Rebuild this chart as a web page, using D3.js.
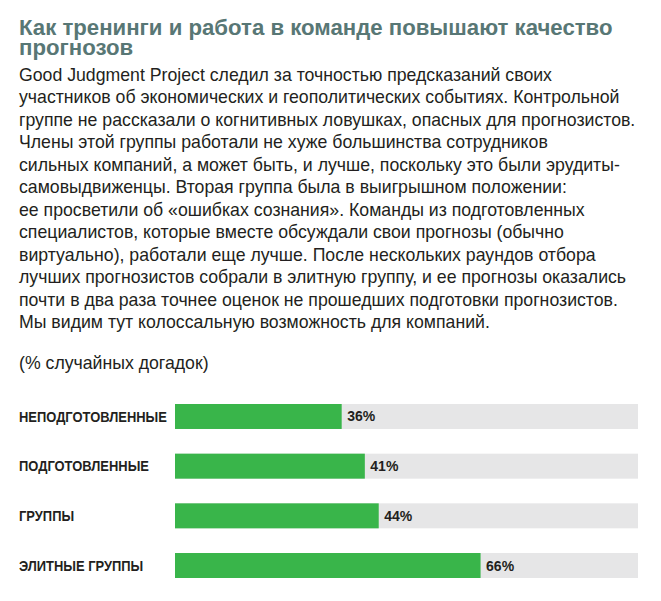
<!DOCTYPE html>
<html>
<head>
<meta charset="utf-8">
<script src="https://cdn.jsdelivr.net/npm/d3@7"></script>
<style>
  html, body { margin: 0; padding: 0; background: #fff; }
  svg { display: block; }
</style>
</head>
<body>
<script>
const titleLines = [
  "Как тренинги и работа в команде повышают качество",
  "прогнозов"
];
const bodyLines = [
  "Good Judgment Project следил за точностью предсказаний своих",
  "участников об экономических и геополитических событиях. Контрольной",
  "группе не рассказали о когнитивных ловушках, опасных для прогнозистов.",
  "Члены этой группы работали не хуже большинства сотрудников",
  "сильных компаний, а может быть, и лучше, поскольку это были эрудиты-",
  "самовыдвиженцы. Вторая группа была в выигрышном положении:",
  "ее просветили об «ошибках сознания». Команды из подготовленных",
  "специалистов, которые вместе обсуждали свои прогнозы (обычно",
  "виртуально), работали еще лучше. После нескольких раундов отбора",
  "лучших прогнозистов собрали в элитную группу, и ее прогнозы оказались",
  "почти в два раза точнее оценок не прошедших подготовки прогнозистов.",
  "Мы видим тут колоссальную возможность для компаний."
];
const unitLabel = "(% случайных догадок)";
const categories = ["НЕПОДГОТОВЛЕННЫЕ", "ПОДГОТОВЛЕННЫЕ", "ГРУППЫ", "ЭЛИТНЫЕ ГРУППЫ"];
const values = [36, 41, 44, 66];
const maxValue = 100;

const W = 661, H = 601;
const svg = d3.select("body").append("svg").attr("width", W).attr("height", H);

const left = 19;
const sans = "'Liberation Sans', Arial, sans-serif";

function measure(family, weight, str, size) {
  const t = svg.append("text").attr("font-family", family).attr("font-weight", weight)
    .attr("font-size", size).text(str);
  const w = t.node().getComputedTextLength();
  t.remove();
  return w;
}

// Title (one text element, two lines)
const titleSize = 21 * 594 / measure(sans, "bold", titleLines[0], 21);
const title = svg.append("text")
  .attr("font-family", sans).attr("font-weight", "bold")
  .attr("fill", "#587775").attr("font-size", titleSize);
title.selectAll("tspan").data(titleLines).join("tspan")
  .attr("x", left).attr("y", (d, i) => 35 + i * 20)
  .text(d => d);

// Body
const bodySize = 17.5 * 617 / measure(sans, "normal", bodyLines[2], 17.5);
svg.append("g").selectAll("text").data(bodyLines).join("text")
  .attr("x", left).attr("y", (d, i) => 81 + i * 22.45)
  .attr("font-family", sans)
  .attr("font-size", bodySize).attr("fill", "#231f20")
  .text(d => d);

svg.append("text").attr("x", left).attr("y", 369)
  .attr("font-family", sans)
  .attr("font-size", bodySize).attr("fill", "#231f20")
  .text(unitLabel);

// Bars
const x = d3.scaleLinear().domain([0, maxValue]).range([175, 638]);
const y = d3.scaleBand().domain(categories).range([404, 578]).paddingInner(0.497).paddingOuter(0);

const rows = svg.append("g").selectAll("g").data(categories).join("g");

rows.append("rect")
  .attr("x", x(0)).attr("y", d => y(d))
  .attr("width", x(maxValue) - x(0)).attr("height", y.bandwidth())
  .attr("fill", "#e6e6e7");

rows.append("rect")
  .attr("x", x(0)).attr("y", d => y(d))
  .attr("width", (d, i) => x(values[i]) - x(0)).attr("height", y.bandwidth())
  .attr("fill", "#39b54a");

const labSize = 14.5;
const labScale = 148 / measure(sans, "bold", categories[0], labSize);

rows.append("text")
  .attr("transform", d => `translate(${left},${y(d) + y.bandwidth() / 2 + labSize * 0.36}) scale(${labScale},1)`)
  .attr("font-family", sans).attr("font-weight", "bold")
  .attr("font-size", labSize).attr("fill", "#231f20")
  .text(d => d);

rows.append("text")
  .attr("x", (d, i) => x(values[i]) + 5.5)
  .attr("y", d => y(d) + y.bandwidth() / 2 + 5)
  .attr("font-family", sans).attr("font-weight", "bold")
  .attr("font-size", 14).attr("fill", "#231f20")
  .text((d, i) => values[i] + "%");
</script>
</body>
</html>
